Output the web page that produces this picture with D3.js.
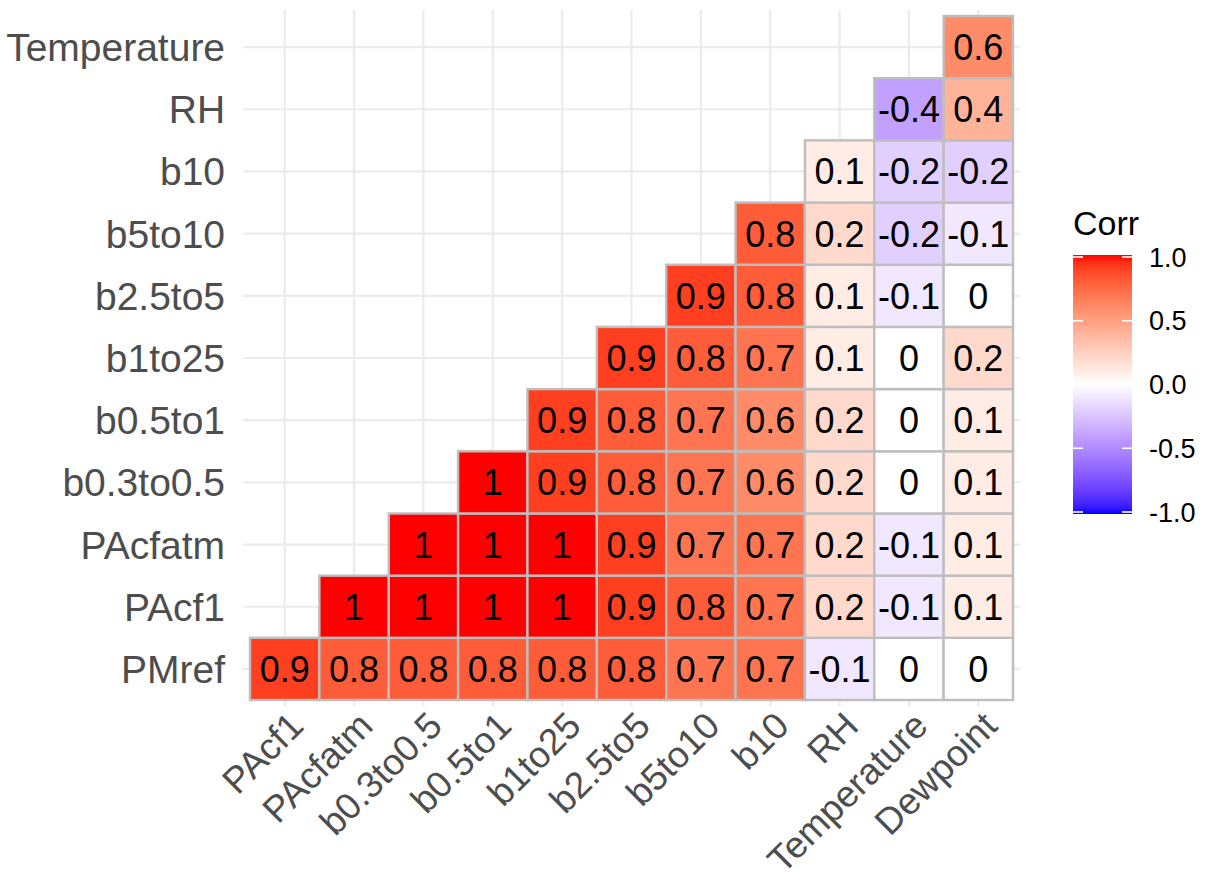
<!DOCTYPE html>
<html>
<head>
<meta charset="utf-8">
<script src="https://cdn.jsdelivr.net/npm/d3@7"></script>
<style>
  body { margin: 0; background: #ffffff; }
  svg { display: block; }
  text { font-family: "Liberation Sans", Arial, Helvetica, sans-serif; }
</style>
</head>
<body>
<svg id="chart" width="1207" height="888"></svg>
<script>
// Variables in matrix order; the lower triangle is drawn
const variables = ["PMref", "PAcf1", "PAcfatm", "b0.3to0.5", "b0.5to1", "b1to25",
                   "b2.5to5", "b5to10", "b10", "RH", "Temperature", "Dewpoint"];
const xVars = variables.slice(1);
const yVars = variables.slice(0, -1);

// Correlations of each row variable with every later variable (rounded to 1 dp)
const corrPMref      = [0.9, 0.8, 0.8, 0.8, 0.8, 0.8, 0.7, 0.7, -0.1, 0, 0];
const corrPAcf1      = [1, 1, 1, 1, 0.9, 0.8, 0.7, 0.2, -0.1, 0.1];
const corrPAcfatm    = [1, 1, 1, 0.9, 0.7, 0.7, 0.2, -0.1, 0.1];
const corrB03to05    = [1, 0.9, 0.8, 0.7, 0.6, 0.2, 0, 0.1];
const corrB05to1     = [0.9, 0.8, 0.7, 0.6, 0.2, 0, 0.1];
const corrB1to25     = [0.9, 0.8, 0.7, 0.1, 0, 0.2];
const corrB25to5     = [0.9, 0.8, 0.1, -0.1, 0];
const corrB5to10     = [0.8, 0.2, -0.2, -0.1];
const corrB10        = [0.1, -0.2, -0.2];
const corrRH         = [-0.4, 0.4];
const corrTemperature = [0.6];

const corrRows = [corrPMref, corrPAcf1, corrPAcfatm, corrB03to05, corrB05to1, corrB1to25,
                  corrB25to5, corrB5to10, corrB10, corrRH, corrTemperature];

const legendBreaks = [-1, -0.5, 0, 0.5, 1];

// Long-format cells
const cells = [];
corrRows.forEach((row, i) => {
  row.forEach((v, k) => {
    cells.push({ row: yVars[i], col: variables[i + 1 + k], value: v });
  });
});

const svg = d3.select("#chart");
svg.append("rect").attr("width", 1207).attr("height", 888).attr("fill", "#ffffff");

// Tile area and panel (panel extends 0.1 of a tile past the tiles)
const tileX = [250, 1013];
const tileY = [16, 700];

const x = d3.scaleBand().domain(xVars).range(tileX);
const y = d3.scaleBand().domain(yVars.slice().reverse()).range(tileY);
const bw = x.bandwidth(), bh = y.bandwidth();
const panel = {
  left: tileX[0] - 0.1 * bw, right: tileX[1] + 0.1 * bw,
  top: tileY[0] - 0.1 * bh, bottom: tileY[1] + 0.1 * bh
};

// Diverging fill: blue - white - red, interpolated in Lab space
const toRed = d3.interpolateLab("#ffffff", "#ff0000");
const toBlue = d3.interpolateLab("#ffffff", "#0000ff");
const fill = v => v >= 0 ? toRed(Math.min(v, 1)) : toBlue(Math.min(-v, 1));

// Grid lines
const grid = svg.append("g").attr("stroke", "#EBEBEB").attr("stroke-width", 2.2);
grid.selectAll(".vg").data(xVars).join("line")
  .attr("x1", d => x(d) + bw / 2).attr("x2", d => x(d) + bw / 2)
  .attr("y1", panel.top).attr("y2", panel.bottom);
grid.selectAll(".hg").data(yVars).join("line")
  .attr("y1", d => y(d) + bh / 2).attr("y2", d => y(d) + bh / 2)
  .attr("x1", panel.left).attr("x2", panel.right);

// Tiles
svg.append("g").selectAll("rect").data(cells).join("rect")
  .attr("x", d => x(d.col)).attr("y", d => y(d.row))
  .attr("width", bw).attr("height", bh)
  .attr("fill", d => fill(d.value))
  .attr("stroke", "#BEBEBE").attr("stroke-width", 2.4);

// Tile labels
svg.append("g").selectAll("text").data(cells).join("text")
  .attr("x", d => x(d.col) + bw / 2).attr("y", d => y(d.row) + bh / 2)
  .attr("dy", "0.36em")
  .attr("text-anchor", "middle")
  .attr("font-size", 36)
  .attr("fill", "#000000")
  .text(d => String(d.value));

// Y axis labels
svg.append("g").selectAll("text").data(yVars).join("text")
  .attr("x", panel.left - 18).attr("y", d => y(d) + bh / 2)
  .attr("dy", "0.36em")
  .attr("text-anchor", "end")
  .attr("font-size", 39)
  .attr("fill", "#4D4D4D")
  .text(d => d);

// X axis labels, rotated 45 degrees
svg.append("g").selectAll("text").data(xVars).join("text")
  .attr("transform", d => `translate(${x(d) + bw / 2 + 2},${panel.bottom + 3}) rotate(-45)`)
  .attr("dy", "0.72em")
  .attr("text-anchor", "end")
  .attr("font-size", 37)
  .attr("fill", "#4D4D4D")
  .text(d => d);

// Legend
const lg = { x: 1073, y: 255, w: 59, h: 259 };
svg.append("text")
  .attr("x", lg.x).attr("y", 235)
  .attr("font-size", 34)
  .attr("fill", "#000000")
  .text("Corr");

const defs = svg.append("defs");
const grad = defs.append("linearGradient")
  .attr("id", "corrGrad").attr("x1", 0).attr("x2", 0).attr("y1", 1).attr("y2", 0);
d3.range(0, 41).forEach(i => {
  const t = i / 40;
  grad.append("stop").attr("offset", t).attr("stop-color", fill(-1 + 2 * t));
});
svg.append("rect")
  .attr("x", lg.x).attr("y", lg.y).attr("width", lg.w).attr("height", lg.h)
  .attr("fill", "url(#corrGrad)");

const ly = d3.scaleLinear().domain([-1, 1]).range([lg.y + lg.h - 2, lg.y + 2]);
const tickLen = 10;
const lt = svg.append("g").attr("stroke", "#ffffff").attr("stroke-width", 1.6);
lt.selectAll(".tl").data(legendBreaks).join("line")
  .attr("x1", lg.x).attr("x2", lg.x + tickLen)
  .attr("y1", d => ly(d)).attr("y2", d => ly(d));
lt.selectAll(".tr").data(legendBreaks).join("line")
  .attr("x1", lg.x + lg.w - tickLen).attr("x2", lg.x + lg.w)
  .attr("y1", d => ly(d)).attr("y2", d => ly(d));

svg.append("g").selectAll("text").data(legendBreaks).join("text")
  .attr("x", lg.x + lg.w + 17).attr("y", d => ly(d))
  .attr("dy", "0.36em")
  .attr("font-size", 27)
  .attr("fill", "#000000")
  .text(d => d.toFixed(1));
</script>
</body>
</html>
